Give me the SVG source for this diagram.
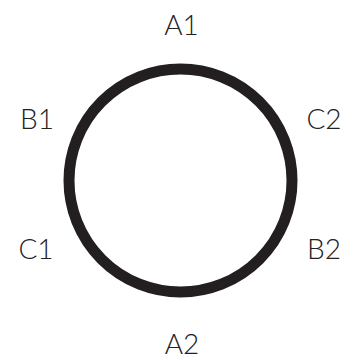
<svg xmlns="http://www.w3.org/2000/svg" width="353" height="360" viewBox="0 0 353 360">
<style>
.lbl{font-family:Lato,"Open Sans",sans-serif;font-weight:300;font-size:28px;fill:#222;text-anchor:middle}
.ring{fill:none;stroke:#231f20;stroke-width:11}
</style>
<rect width="353" height="360" fill="#fff"/>
<g id="connectors">
<circle class="ring" cx="180.5" cy="180.5" r="111.5"/>
</g>
<g id="A1"><text class="lbl" x="181.5" y="35">A1</text></g>
<g id="B1"><text class="lbl" x="37" y="129">B1</text></g>
<g id="C2"><text class="lbl" x="324" y="129">C2</text></g>
<g id="C1"><text class="lbl" x="36" y="259">C1</text></g>
<g id="B2"><text class="lbl" x="324" y="259">B2</text></g>
<g id="A2"><text class="lbl" x="182" y="354">A2</text></g>
</svg>
